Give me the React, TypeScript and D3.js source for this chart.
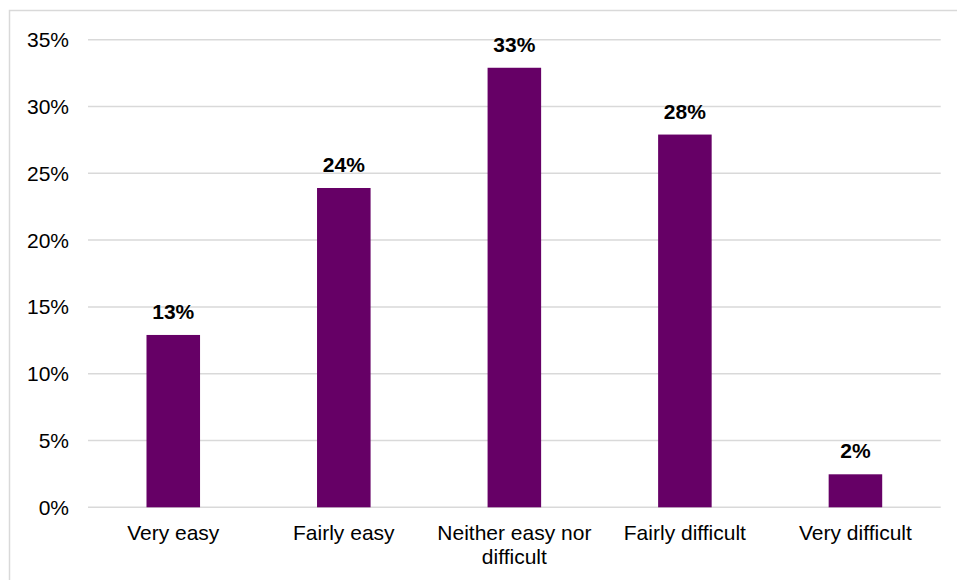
import React from "react";
import * as d3 from "d3";

const categories: string[][] = [
  ["Very easy"],
  ["Fairly easy"],
  ["Neither easy nor", "difficult"],
  ["Fairly difficult"],
  ["Very difficult"],
];
const shares: number[] = [0.129, 0.239, 0.329, 0.279, 0.0247];
const yTicks: number[] = [0, 0.05, 0.1, 0.15, 0.2, 0.25, 0.3, 0.35];

const W = 957;
const H = 580;
const plot = { left: 88, right: 940.7, top: 39.7, bottom: 507.3 };
const font = "'Liberation Sans', Arial, sans-serif";

export default function App() {
  const x = d3
    .scaleBand<number>()
    .domain(d3.range(categories.length))
    .range([plot.left, plot.right])
    .paddingInner(0.686)
    .paddingOuter(0.343);
  const y = d3.scaleLinear().domain([0, 0.35]).range([plot.bottom, plot.top]);
  const pct = d3.format(".0%");
  const band = (plot.right - plot.left) / categories.length;

  return (
    <svg
      width={W}
      height={H}
      style={{ position: "absolute", left: 0, top: 0, background: "#fff" }}
      fontFamily={font}
    >
      <rect x={9.5} y={10.5} width={W + 10} height={H + 10} fill="#fff" stroke="#d9d9d9" strokeWidth={1.5} />
      {yTicks.map((t) => (
        <g key={t}>
          <line x1={plot.left} x2={plot.right} y1={y(t)} y2={y(t)} stroke="#d9d9d9" strokeWidth={1.5} />
          <text x={69} y={y(t) + 7.5} textAnchor="end" fontSize={21} fill="#000">
            {pct(t)}
          </text>
        </g>
      ))}
      {shares.map((v, i) => (
        <g key={i}>
          <rect x={x(i)} y={y(v)} width={x.bandwidth()} height={y(0) - y(v)} fill="#660066" />
          <text
            x={(x(i) as number) + x.bandwidth() / 2}
            y={y(v) - 16}
            textAnchor="middle"
            fontSize={21}
            fontWeight="bold"
            fill="#000"
          >
            {pct(v)}
          </text>
          <text x={plot.left + band * (i + 0.5)} y={540} textAnchor="middle" fontSize={21} fill="#000">
            {categories[i].map((line, j) => (
              <tspan key={j} x={plot.left + band * (i + 0.5)} dy={j === 0 ? 0 : 24}>
                {line}
              </tspan>
            ))}
          </text>
        </g>
      ))}
    </svg>
  );
}
